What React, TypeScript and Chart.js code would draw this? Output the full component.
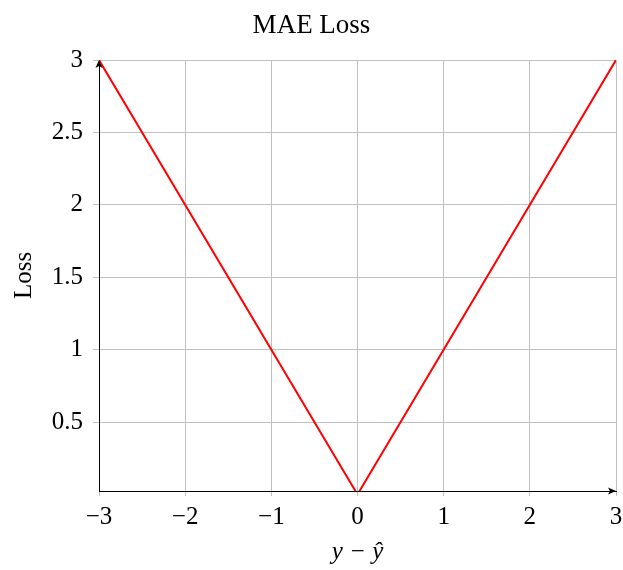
import { useEffect, useRef } from "react";
import { Chart, registerables } from "chart.js";

Chart.register(...registerables);

const xValues = [-3, 0, 3];
const lossValues = [3, 0, 3];
const xTicks = [-3, -2, -1, 0, 1, 2, 3];
const yTicks = [0.5, 1, 1.5, 2, 2.5, 3];
const xMin = -3;
const xMax = 3;
const yMin = 0.024;
const yMax = 3;
const chartTitle = "MAE Loss";
const xTitle = "y − ŷ";
const yTitle = "Loss";

const FONT = "'Liberation Serif', 'DejaVu Serif', serif";
const GRID = "rgb(192,192,192)";

const fmt = (v: number) => (v < 0 ? "\u2212" + Math.abs(v) : String(v));

const arrowPlugin = {
  id: "axisArrows",
  afterDraw(chart: any) {
    const { ctx, chartArea } = chart;
    const { left, right, top, bottom } = chartArea;
    ctx.save();
    ctx.fillStyle = "#000";
    ctx.beginPath();
    ctx.moveTo(right, bottom);
    ctx.lineTo(right - 8, bottom - 3.5);
    ctx.lineTo(right - 6, bottom);
    ctx.lineTo(right - 8, bottom + 3.5);
    ctx.closePath();
    ctx.fill();
    ctx.beginPath();
    ctx.moveTo(left, top);
    ctx.lineTo(left - 3.5, top + 8);
    ctx.lineTo(left, top + 6);
    ctx.lineTo(left + 3.5, top + 8);
    ctx.closePath();
    ctx.fill();
    ctx.restore();
  },
};

export default function App() {
  const ref = useRef<HTMLCanvasElement | null>(null);

  useEffect(() => {
    if (!ref.current) return;
    const chart = new Chart(ref.current, {
      type: "scatter",
      data: {
        datasets: [
          {
            data: xValues.map((x, i) => ({ x, y: lossValues[i] })),
            showLine: true,
            borderColor: "rgb(255,0,0)",
            borderWidth: 2,
            pointRadius: 0,
            fill: false,
          },
        ],
      },
      options: {
        animation: false,
        responsive: false,
        devicePixelRatio: 1,
        layout: { padding: { left: 0, right: 0, top: 0, bottom: 0 } },
        plugins: {
          legend: { display: false },
          tooltip: { enabled: false },
          title: {
            display: true,
            text: chartTitle,
            color: "#000",
            font: { family: FONT, size: 27, weight: "normal", lineHeight: 1.2 },
            padding: { top: 10, bottom: 17.6 },
          },
        },
        scales: {
          x: {
            type: "linear",
            min: xMin,
            max: xMax,
            afterBuildTicks: (s: any) => {
              s.ticks = xTicks.map((v) => ({ value: v }));
            },
            afterFit: (s: any) => {
              s.height = 79;
              s.paddingRight = 7;
              s.paddingLeft = 0;
            },
            ticks: {
              color: "#000",
              font: { family: FONT, size: 25 },
              padding: 6,
              maxRotation: 0,
              callback: (v: any) => fmt(Number(v)),
            },
            grid: { color: GRID, lineWidth: 1, tickLength: 5, tickColor: GRID },
            border: { color: "#000", width: 1 },
            title: {
              display: true,
              text: xTitle,
              color: "#000",
              font: { family: FONT, size: 25, style: "italic", lineHeight: 1.2 },
              padding: { top: 0, bottom: 3 },
            },
          },
          y: {
            type: "linear",
            min: yMin,
            max: yMax,
            afterBuildTicks: (s: any) => {
              s.ticks = yTicks.map((v) => ({ value: v }));
            },
            afterFit: (s: any) => {
              s.width = 99;
            },
            ticks: {
              color: "#000",
              font: { family: FONT, size: 25 },
              padding: 10,
              callback: (v: any) => fmt(Number(v)),
            },
            grid: { color: GRID, lineWidth: 1, tickLength: 6, tickColor: GRID },
            border: { color: "#000", width: 1 },
            title: {
              display: true,
              text: yTitle,
              color: "#000",
              font: { family: FONT, size: 25, lineHeight: 1.2 },
              padding: { top: 9, bottom: 0 },
            },
          },
        },
      },
      plugins: [arrowPlugin],
    });
    return () => chart.destroy();
  }, []);

  return (
    <div style={{ position: "fixed", left: 0, top: 0, width: 623, height: 570, background: "#fff" }}>
      <canvas ref={ref} width={623} height={570} style={{ display: "block" }} />
    </div>
  );
}
